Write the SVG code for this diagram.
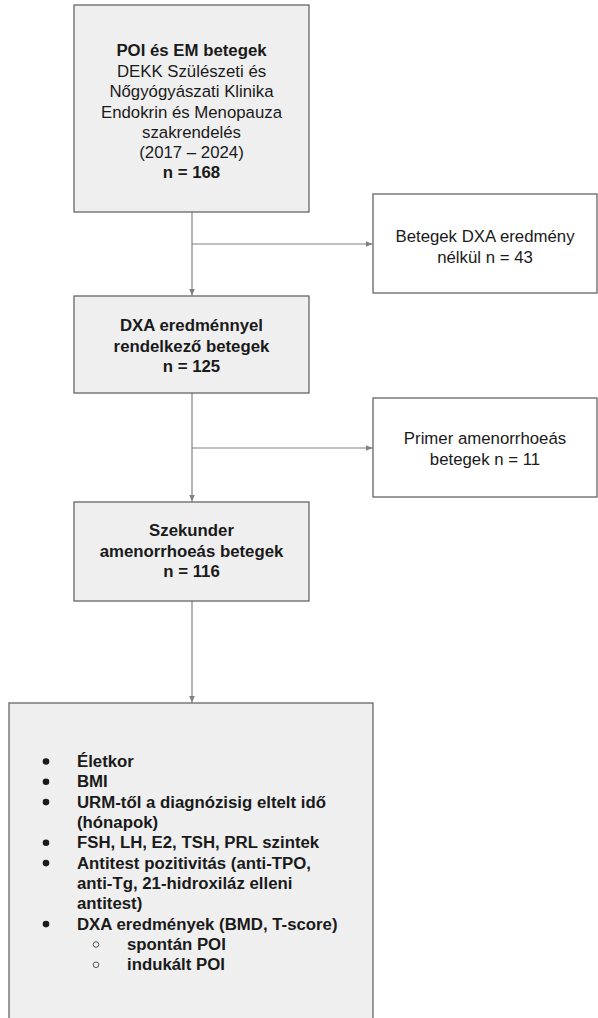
<svg xmlns="http://www.w3.org/2000/svg" width="598" height="1018" viewBox="0 0 598 1018">
<style>
.box{fill:#efefef;stroke:#666;stroke-width:1.3}
.wbox{fill:#fff;stroke:#666;stroke-width:1.3}
.t{font-family:"Liberation Sans",Arial,sans-serif;font-size:16.8px;fill:#1a1a1a;text-anchor:middle}
.b{font-weight:bold}
.l{font-family:"Liberation Sans",Arial,sans-serif;font-size:16.8px;fill:#1a1a1a;font-weight:bold}
.c{stroke:#808080;stroke-width:1.2;fill:none}
</style>
<defs>
<marker id="ah" markerWidth="8" markerHeight="8" refX="7" refY="4" orient="auto" markerUnits="userSpaceOnUse">
<path d="M0,1 L7,4 L0,7 Z" fill="#808080"/>
</marker>
</defs>
<g id="connectors">
<line class="c" x1="192" y1="212" x2="192" y2="295.5" marker-end="url(#ah)"/>
<line class="c" x1="192" y1="244" x2="372.5" y2="244" marker-end="url(#ah)"/>
<line class="c" x1="192" y1="393" x2="192" y2="501.5" marker-end="url(#ah)"/>
<line class="c" x1="192" y1="448" x2="372.5" y2="448" marker-end="url(#ah)"/>
<line class="c" x1="192" y1="601" x2="192" y2="702.5" marker-end="url(#ah)"/>
</g>
<g id="n1">
<rect class="box" x="74" y="5" width="235" height="207"/>
<text class="t b" x="191.5" y="56">POI és EM betegek</text>
<text class="t" x="191.5" y="76.5">DEKK Szülészeti és</text>
<text class="t" x="191.5" y="97">Nőgyógyászati Klinika</text>
<text class="t" x="191.5" y="117.5">Endokrin és Menopauza</text>
<text class="t" x="191.5" y="137.5">szakrendelés</text>
<text class="t" x="191.5" y="158">(2017 – 2024)</text>
<text class="t b" x="191.5" y="177.5">n = 168</text>
</g>
<g id="n2">
<rect class="wbox" x="373" y="194" width="224" height="99"/>
<text class="t" x="485" y="242">Betegek DXA eredmény</text>
<text class="t" x="485" y="262.5">nélkül n = 43</text>
</g>
<g id="n3">
<rect class="box" x="74" y="296" width="235" height="97"/>
<text class="t b" x="191.5" y="331">DXA eredménnyel</text>
<text class="t b" x="191.5" y="351.5">rendelkező betegek</text>
<text class="t b" x="191.5" y="372">n = 125</text>
</g>
<g id="n4">
<rect class="wbox" x="373" y="398" width="224" height="99"/>
<text class="t" x="485" y="444">Primer amenorrhoeás</text>
<text class="t" x="485" y="464.5">betegek n = 11</text>
</g>
<g id="n5">
<rect class="box" x="74" y="502" width="235" height="99"/>
<text class="t b" x="191.5" y="536">Szekunder</text>
<text class="t b" x="191.5" y="556.5">amenorrhoeás betegek</text>
<text class="t b" x="191.5" y="577">n = 116</text>
</g>
<g id="n6">
<rect class="box" x="9" y="703" width="364" height="330"/>
<g fill="#1a1a1a">
<circle cx="46" cy="761.5" r="3.3"/>
<circle cx="46" cy="781.8" r="3.3"/>
<circle cx="46" cy="802.1" r="3.3"/>
<circle cx="46" cy="842.8" r="3.3"/>
<circle cx="46" cy="863.1" r="3.3"/>
<circle cx="46" cy="924.1" r="3.3"/>
</g>
<g fill="none" stroke="#555" stroke-width="1">
<circle cx="96" cy="944.5" r="2.8"/>
<circle cx="96" cy="964.8" r="2.8"/>
</g>
<text class="l" x="77" y="767">Életkor</text>
<text class="l" x="77" y="787.3">BMI</text>
<text class="l" x="77" y="807.6">URM-től a diagnózisig eltelt idő</text>
<text class="l" x="77" y="828">(hónapok)</text>
<text class="l" x="77" y="848.3">FSH, LH, E2, TSH, PRL szintek</text>
<text class="l" x="77" y="868.6">Antitest pozitivitás (anti-TPO,</text>
<text class="l" x="77" y="889">anti-Tg, 21-hidroxiláz elleni</text>
<text class="l" x="77" y="909.3">antitest)</text>
<text class="l" x="77" y="929.6">DXA eredmények (BMD, T-score)</text>
<text class="l" x="127" y="950">spontán POI</text>
<text class="l" x="127" y="970.3">indukált POI</text>
</g>
</svg>
